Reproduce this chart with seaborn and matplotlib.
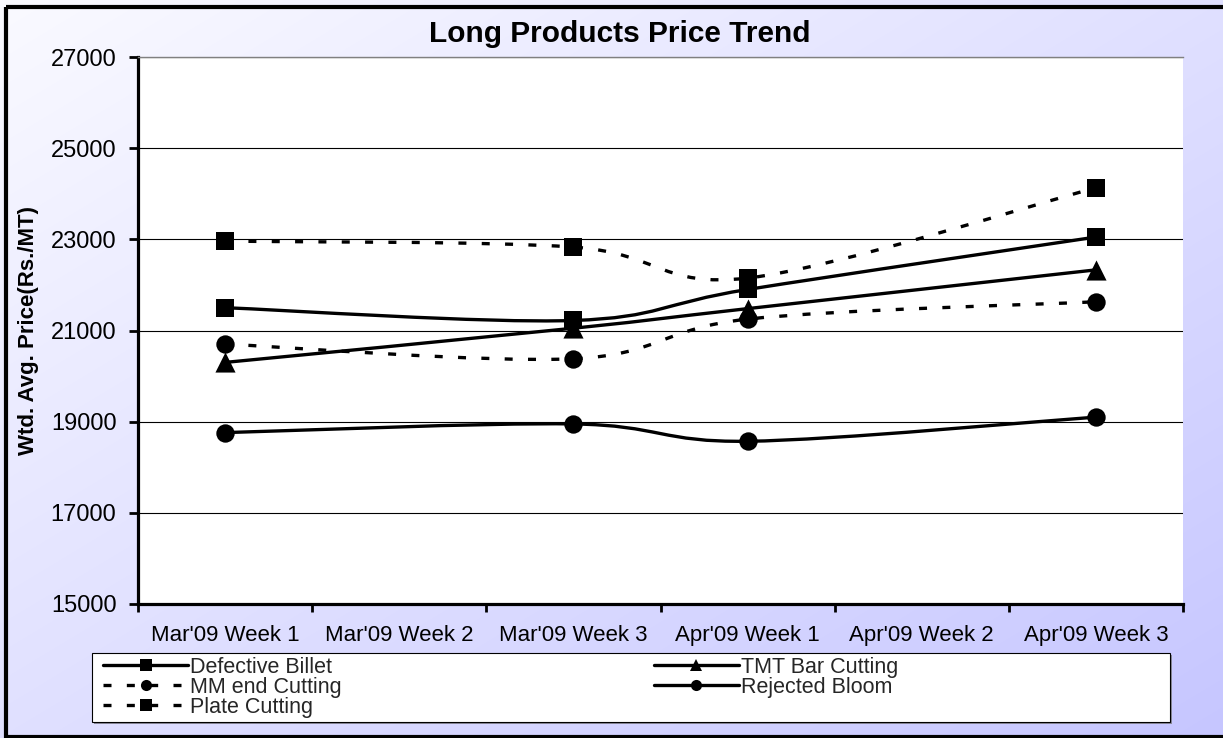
import numpy as np
import pandas as pd
import matplotlib
matplotlib.use("Agg")
import matplotlib.pyplot as plt
import seaborn as sns
from matplotlib.path import Path
from matplotlib.patches import PathPatch, Rectangle
from matplotlib.lines import Line2D

# ---- data -------------------------------------------------------------
weeks = ["Mar'09 Week 1", "Mar'09 Week 2", "Mar'09 Week 3",
         "Apr'09 Week 1", "Apr'09 Week 2", "Apr'09 Week 3"]

defective_billet = [21500, None, 21220, 21900, None, 23050]
tmt_bar_cutting = [20300, None, 21050, 21480, None, 22330]
mm_end_cutting = [20700, None, 20380, 21250, None, 21630]
rejected_bloom = [18760, None, 18950, 18570, None, 19100]
plate_cutting = [22960, None, 22830, 22150, None, 24130]

series_names = ["Defective Billet", "MM end Cutting", "Plate Cutting",
                "TMT Bar Cutting", "Rejected Bloom"]
y_ticks = [15000, 17000, 19000, 21000, 23000, 25000, 27000]

series_values = {
    "Defective Billet": defective_billet,
    "MM end Cutting": mm_end_cutting,
    "Plate Cutting": plate_cutting,
    "TMT Bar Cutting": tmt_bar_cutting,
    "Rejected Bloom": rejected_bloom,
}
series_marker = {
    "Defective Billet": "s", "MM end Cutting": "o", "Plate Cutting": "s",
    "TMT Bar Cutting": "^", "Rejected Bloom": "o",
}
series_dashed = {
    "Defective Billet": False, "MM end Cutting": True, "Plate Cutting": True,
    "TMT Bar Cutting": False, "Rejected Bloom": False,
}

rows = []
for name in series_names:
    for i, v in enumerate(series_values[name]):
        if v is not None:
            rows.append({"series": name, "week": i, "price": v})
df = pd.DataFrame(rows)

# ---- style ------------------------------------------------------------
sns.set_theme(style="white")
plt.rcParams["font.family"] = ["Liberation Sans", "DejaVu Sans"]

W, H = 1223, 738
fig = plt.figure(figsize=(W / 100, H / 100), dpi=100)

# background panel with soft lavender gradient and frame
bg = fig.add_axes([0, 0, 1, 1], zorder=0)
bg.set_xlim(0, W)
bg.set_ylim(H, 0)
bg.axis("off")
xn = np.linspace(0, 1, 300)[None, :]
yn = np.linspace(0, 1, 200)[:, None]
rg = 250 - 26 * xn - 26 * yn
grad = np.dstack([rg, rg, np.full_like(rg, 255)]) / 255.0
bg.imshow(grad, extent=(0, W, H, 0), aspect="auto", interpolation="bilinear")
bg.add_patch(Rectangle((5.5, 6.5), 1300, 730.5, fill=False, ec="black", lw=3.0))
# legend box with a small shadow
bg.add_patch(Rectangle((94, 655), 1078, 69, fc="#8a8a9a", ec="none"))
bg.add_patch(Rectangle((92, 653), 1078, 69, fc="white", ec="black", lw=0.8))

# ---- plot area --------------------------------------------------------
ax = fig.add_axes([138 / W, 1 - 604 / H, (1183 - 138) / W, (604 - 57) / H], zorder=1)
ax.set_facecolor("white")


def smooth_path(xs, ys):
    pts = np.column_stack([xs, ys]).astype(float)
    n = len(pts)
    verts = [pts[0]]
    codes = [Path.MOVETO]
    for i in range(n - 1):
        p0 = pts[max(i - 1, 0)]
        p1 = pts[i]
        p2 = pts[i + 1]
        p3 = pts[min(i + 2, n - 1)]
        verts += [p1 + (p2 - p0) / 6.0, p2 - (p3 - p1) / 6.0, p2]
        codes += [Path.CURVE4] * 3
    return Path(verts, codes)


LW = 2.4
DASH = (0, (2.4, 4.6))
for name in series_names:
    sub = df[df["series"] == name]
    path = smooth_path(sub["week"].values, sub["price"].values)
    ax.add_patch(PathPatch(path, fill=False, ec="black", lw=LW,
                           ls=DASH if series_dashed[name] else "-",
                           capstyle="butt", zorder=3))
    size = 210 if series_marker[name] == "^" else 175
    sns.scatterplot(data=sub, x="week", y="price", marker=series_marker[name],
                    color="black", edgecolor="black", linewidth=0, s=size,
                    ax=ax, zorder=4, legend=False)

ax.set_xlim(-0.5, 5.5)
ax.set_ylim(15000, 27000)
ax.set_yticks(y_ticks)
ax.set_yticklabels([str(t) for t in y_ticks])
ax.set_xticks(np.arange(-0.5, 6.0, 1.0))
ax.set_xticklabels([])
ax.set_xticks(range(len(weeks)), labels=weeks, minor=True)
ax.set_xlabel("")
ax.set_ylabel("Wtd. Avg. Price(Rs./MT)", fontsize=16, fontweight="bold", color="black")
ax.yaxis.set_label_coords(-0.095, 0.5)

ax.yaxis.grid(True, color="black", lw=0.8)
ax.xaxis.grid(False)
ax.set_axisbelow(True)

for s in ["left", "bottom"]:
    ax.spines[s].set_visible(True)
    ax.spines[s].set_color("black")
    ax.spines[s].set_linewidth(2.3)
ax.spines["right"].set_visible(False)
ax.spines["top"].set_visible(True)
ax.spines["top"].set_color("#808080")
ax.spines["top"].set_linewidth(1.0)

ax.tick_params(axis="y", which="major", direction="out", length=6.5, width=2,
               color="black", pad=9, labelsize=17, labelcolor="black", left=True)
ax.tick_params(axis="x", which="major", direction="out", length=6, width=2,
               color="black", bottom=True)
ax.tick_params(axis="x", which="minor", length=0, pad=15, labelsize=16,
               labelcolor="black", bottom=True)

# ---- title ------------------------------------------------------------
fig.text(620 / W, 1 - 34 / H, "Long Products Price Trend", ha="center", va="center",
         fontsize=21.5, fontweight="bold", color="black")

# ---- legend -----------------------------------------------------------
handles = [
    Line2D([], [], color="black", lw=LW, ls=DASH if series_dashed[n] else "-",
           marker=series_marker[n], markersize=8, markeredgewidth=0)
    for n in series_names
]
fig.legend(handles, series_names, ncol=2, loc="upper left",
           bbox_to_anchor=(103 / W, 1 - 657 / H), frameon=False, fontsize=15.5,
           handlelength=3.95, handletextpad=0.1, columnspacing=14.5,
           labelspacing=-0.05, borderpad=0, borderaxespad=0)

fig.savefig("out.png", dpi=100)
